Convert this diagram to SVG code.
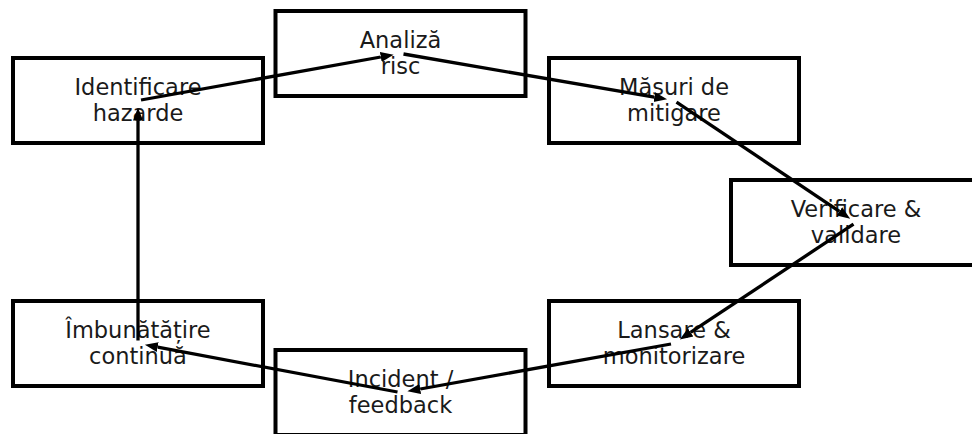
<svg xmlns="http://www.w3.org/2000/svg" width="972" height="434" viewBox="0 0 972 434">
  <style>
    .box { fill: #ffffff; stroke: #000000; stroke-width: 4; }
    .lbl { font-family: "DejaVu Sans", sans-serif; font-size: 22.5px; fill: #1a1a1a; text-anchor: middle; }
    .arr { stroke: #000000; stroke-width: 3.3; fill: none; marker-end: url(#head); }
  </style>
  <defs>
    <marker id="head" markerUnits="userSpaceOnUse" viewBox="0 -6 13 12" markerWidth="13" markerHeight="12" refX="0" refY="0" orient="auto">
      <path d="M0,-5 L13,0 L0,5 Z" fill="#000000"/>
    </marker>
  </defs>
  <rect width="972" height="434" fill="#ffffff"/>

  <g id="node-identificare">
    <rect class="box" x="13" y="58" width="250" height="85"/>
    <text class="lbl" x="138" y="94.5">Identificare</text>
    <text class="lbl" x="138" y="121">hazarde</text>
  </g>
  <g id="node-analiza">
    <rect class="box" x="275.5" y="11" width="250" height="85"/>
    <text class="lbl" x="400.5" y="47.5">Analiză</text>
    <text class="lbl" x="400.5" y="74">risc</text>
  </g>
  <g id="node-masuri">
    <rect class="box" x="549" y="58" width="250" height="85"/>
    <text class="lbl" x="674" y="94.5">Măsuri de</text>
    <text class="lbl" x="674" y="121">mitigare</text>
  </g>
  <g id="node-verificare">
    <rect class="box" x="731" y="180" width="250" height="85"/>
    <text class="lbl" x="856" y="216.5">Verificare &amp;</text>
    <text class="lbl" x="856" y="243">validare</text>
  </g>
  <g id="node-lansare">
    <rect class="box" x="549" y="301" width="250" height="85"/>
    <text class="lbl" x="674" y="337.5">Lansare &amp;</text>
    <text class="lbl" x="674" y="364">monitorizare</text>
  </g>
  <g id="node-incident">
    <rect class="box" x="275.5" y="350" width="250" height="85"/>
    <text class="lbl" x="400.5" y="386.5">Incident /</text>
    <text class="lbl" x="400.5" y="413">feedback</text>
  </g>
  <g id="node-imbunatatire">
    <rect class="box" x="13" y="301" width="250" height="85"/>
    <text class="lbl" x="138" y="337.5">Îmbunătățire</text>
    <text class="lbl" x="138" y="364">continuă</text>
  </g>

  <g id="connectors">
    <line class="arr" x1="141" y1="100" x2="380.8" y2="57"/>
    <line class="arr" x1="403.5" y1="54" x2="654.3" y2="97.1"/>
    <line class="arr" x1="676.5" y1="102.2" x2="839.4" y2="211.4"/>
    <line class="arr" x1="853.5" y1="224.2" x2="690.6" y2="332.4"/>
    <line class="arr" x1="671" y1="344" x2="420.2" y2="389"/>
    <line class="arr" x1="397.5" y1="392" x2="157.7" y2="347.2"/>
    <line class="arr" x1="138" y1="340.5" x2="138" y2="120.5"/>
  </g>
</svg>
